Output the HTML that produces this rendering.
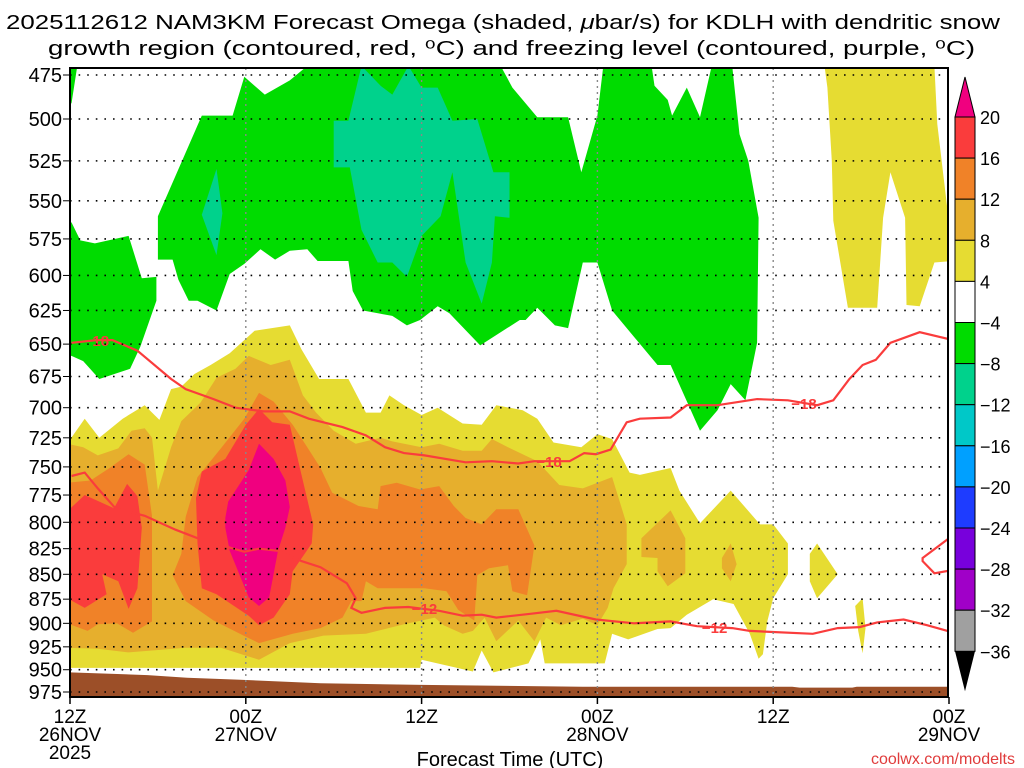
<!DOCTYPE html>
<html><head><meta charset="utf-8"><style>
html,body{margin:0;padding:0;background:#fff;}
svg{display:block;font-family:"Liberation Sans",sans-serif;}
</style></head><body>
<svg id="chart" width="1024" height="768" viewBox="0 0 1024 768" xmlns="http://www.w3.org/2000/svg">
<defs><clipPath id="plotclip"><rect x="70" y="68" width="878" height="629"/></clipPath></defs>
<g font-size="20" fill="#000">
<text x="6" y="29" textLength="994" lengthAdjust="spacingAndGlyphs">2025112612 NAM3KM Forecast Omega (shaded, <tspan font-style="italic">μ</tspan>bar/s) for KDLH with dendritic snow</text>
<text x="48" y="55" textLength="927" lengthAdjust="spacingAndGlyphs">growth region (contoured, red, ⁰C) and freezing level (contoured, purple, ⁰C)</text>
</g>
<g id="plot" clip-path="url(#plotclip)"></g>
<g id="grid"></g>
<g id="axes"></g>
<g id="cbar"></g>
<text x="510" y="766" font-size="20" text-anchor="middle">Forecast Time (UTC)</text>
<text x="1015" y="764" font-size="16" text-anchor="end" fill="#e03c3c">coolwx.com/modelts</text>
</svg>
<script>
// ---- data (hour since 12Z 26NOV, pressure hPa) ----
const pressureLevels=[475,500,525,550,575,600,625,650,675,700,725,750,775,800,825,850,875,900,925,950,975];
const timeTicks=[0,12,24,36,48,60];
const timeLabels1=["12Z","00Z","12Z","00Z","12Z","00Z"];
const timeLabels2=["26NOV","27NOV","","28NOV","","29NOV"];
const cbarLabels=["20","16","12","8","4","−4","−8","−12","−16","−20","−24","−28","−32","−36"];
const cbarColors=["#fa3c3c","#f08228","#e6af2d","#e6dc32","#ffffff","#00dc00","#00d28c","#00c8c8","#00a0ff","#1e3cff","#7800dc","#a000c8","#a0a0a0"];
const greenMain=[[16.2,470],[15,478],[13.3,486],[11.9,476],[11.1,498],[9,498],[6,560],[6,589],[7,589],[7.4,603],[8.1,618],[8.7,618],[10,625],[10.9,599],[11.9,592],[13,582],[14,589],[15,583],[16.2,582],[16.9,590],[19,590],[19.3,611],[20,625],[22,629],[23,636],[23.9,632],[25.1,622],[25.9,627],[28,651],[30.7,632],[31.1,632],[31.9,623],[33.1,636],[34,638],[35,591],[36,591],[37,625],[40.1,666],[41,666],[43,719],[44.2,702],[45.1,681],[46.1,694],[46.9,649],[47,561],[46.3,525],[45.7,509],[45.2,470],[43.8,470],[43,499],[42.1,482],[41.1,498],[40.8,489],[39.9,481],[39.7,470],[36.4,470],[36,498],[34.9,532],[34,499],[31.9,499],[30.2,482],[29.4,470]];
const greenLeft=[[-0.2,564],[0.1,564],[0.7,576],[1.7,578],[4,573],[4.9,602],[5.9,601],[5.9,618],[4.8,652],[4.1,669],[2,677],[0.9,663],[0.1,659],[-0.2,659]];
const greenSliver=[[-0.2,470],[0.5,470],[0.1,491],[-0.2,491]];
const tealSmall=[[10,530],[10.4,558],[10,586],[9,559]];
const tealBig=[[19.9,470],[21.2,481],[22,486],[23.1,470],[24,482],[25.1,482],[26.1,501],[27.8,500],[28.9,532],[30,532],[30,561],[29,560],[28.8,591],[28.1,620],[27,591],[26.1,532],[25.3,560],[24,573],[23,601],[22,591],[21,591],[19.9,569],[19.1,529],[18,529],[18,501],[19,501]];
const yellowUpperRight=[[51.5,470],[59,470],[59.2,503],[59.9,556],[60.2,590],[59,591],[58,622],[57.1,621],[57,561],[56,532],[55.5,561],[55.1,623],[53.1,623],[52.1,563],[52,525],[51.7,482]];
const yellowMain=[[-0.2,730],[1,709],[2,725],[3.6,709],[5.1,698],[6.1,710],[6.9,685],[7.6,683],[8.5,673],[9.6,666],[10.9,657],[12.6,640],[15,636],[15.8,654],[17,677],[19,677],[20.2,704],[21.2,704],[21.8,690],[22.8,698],[24,706],[25.1,700],[26.8,713],[28.1,714],[29.1,698],[30.9,702],[31.9,709],[33,729],[34.9,733],[36,722],[37,726],[38.2,755],[38.9,757],[41,751],[41.6,771],[43,801],[45.1,771],[47.1,802],[48,802],[49,820],[49,850],[48,874],[47.6,898],[47.3,933],[47,938],[46.4,911],[45.3,880],[43.9,875],[42.1,891],[41,905],[40.1,906],[38.1,917],[37,911],[36.5,943],[32.4,943],[32.1,917],[31.3,943],[28.9,953],[28.1,929],[27.5,952],[24,939],[23.9,948],[17.1,948],[-0.2,948]];
const yellowSmallA=[[51,820],[52.4,850],[51,874],[50.5,857],[50.5,830]];
const yellowSmallB=[[54.1,874],[54.3,905],[54.1,932],[53.8,908],[53.6,882]];
const lightOrangeMain=[[-0.2,730],[0.9,733],[1.9,740],[3.3,734],[4.2,719],[5.1,717],[5.6,725],[6,771],[6.9,733],[7.6,711],[8.9,696],[10,676],[11.3,669],[12.2,659],[13.7,666],[15,662],[15.9,690],[16.8,704],[18,719],[19.5,730],[21.2,725],[22,728],[24,733],[25.2,730],[26.8,736],[28.1,736],[28.8,726],[29.9,733],[31.9,745],[33.4,766],[35,769],[37,759],[37.5,780],[38,802],[38,840],[37.1,864],[36.7,884],[36,902],[35,895],[33.5,902],[32.5,894],[31.7,919],[30.6,897],[29.1,919],[28.3,894],[27.5,908],[26.8,911],[25.5,902],[24.9,894],[22.8,901],[20.2,911],[17.3,913],[15,921],[12.9,939],[10.3,926],[7.9,926],[5.6,929],[4,931],[1.9,927],[-0.2,926]];
const lightOrangeA=[[39,815],[41,789],[42,815],[42,849],[40.8,862],[40.1,847],[40.1,834],[39,833]];
const lightOrangeB=[[44.5,834],[45.1,820],[45.5,840],[45.1,857],[44.5,844]];
const orangeLeft=[[-0.2,764],[1.4,762],[2.7,751],[4,739],[5.1,748],[5.6,794],[5.6,898],[4.3,910],[3.2,900],[1.9,901],[1.2,908],[-0.2,900]];
const orangeMain=[[7.6,830],[7.9,795],[8.7,759],[10.3,734],[11.9,709],[12.9,688],[13.9,695],[15.2,714],[16.3,735],[17.1,751],[17.9,773],[19.7,785],[21,788],[21.2,767],[22.3,764],[23.9,770],[25.2,767],[26.2,785],[27,796],[28.1,802],[29.1,788],[30.6,788],[31.7,822],[31.2,871],[30.2,867],[29.9,841],[28.6,844],[27.8,851],[27.6,897],[26.5,886],[25.7,867],[24.2,864],[21,864],[20.2,857],[19.9,877],[19.2,877],[18.6,894],[17.1,905],[15.2,911],[12.9,921],[11.6,911],[9.8,897],[7.9,877],[7,851]];
const redLeft=[[-0.2,790],[1,775],[3,787],[3.9,765],[4.6,776],[4.9,805],[4.6,864],[4,885],[3.3,857],[2.2,850],[2.5,870],[1,884],[-0.2,874]];
const redMain=[[9,754],[10.6,743],[12,714],[12.9,701],[13.8,712],[15,714],[15.8,757],[16.6,802],[16.5,820],[15.2,847],[15,870],[13.9,894],[12.9,902],[12.2,892],[10,870],[9,864],[8.7,820],[8.6,778]];
const magentaCore=[[10.6,796],[10.8,781],[12.2,753],[12.9,730],[13.9,743],[14.7,762],[15,786],[14.7,805],[14.2,827],[13.6,873],[12.9,882],[12.2,873],[10.9,827],[10.6,805]];
const groundHours=[0,5.3,8,11.4,17.1,24,35,49.3,49.8,53.4,53.7,60];
const groundP=[953,956,959,961,965,967,969,969,970,970,969,969];
const contour18=[[0.1,649],[1.8,647],[2.9,647],[4.6,655],[6.9,677],[7.9,685],[9.8,693],[11.3,700],[13.2,703],[15,703],[16.3,709],[18.6,716],[20.2,723],[21.5,733],[22.8,738],[24.2,740],[27,746],[28.8,745],[30.6,747],[31.7,745],[34.1,745],[35.1,738],[35.9,739],[36.9,735],[38,712],[38.9,709],[41,708],[42.1,698],[44.2,698],[46.9,693],[49,694],[51,698],[52.1,694],[53.2,677],[54.1,666],[55,662],[56,649],[58,641],[59.9,646],[60.2,648]];
const contour12=[[0.1,758],[1,755],[1.9,769],[3.1,787],[5.1,794],[7.2,807],[8.7,815],[11.9,828],[12.9,825],[14.2,827],[15.8,837],[17.1,843],[18.9,859],[19.5,874],[19.2,884],[19.9,889],[21.5,884],[23.1,883],[25.2,887],[26.8,892],[28.1,891],[29.1,894],[31.5,890],[33.2,887],[35.9,896],[38.5,900],[41,898],[42.8,903],[45.2,905],[46.4,908],[50.7,911],[52.4,905],[53.9,904],[55.1,899],[56.9,896],[58.5,902],[59.9,908],[60.2,909]];
const contour12b=[[60.2,813],[58.2,834],[58.2,837],[59,849],[60.2,846]];
const contourLabelText=["18","−18","−18","−12","−12"];
const contourLabelPos=[[2.1,647],[32.7,745],[50.1,696],[24.2,884],[44,904]];

// ---- axis functions ----
const X=h=>70+h*14.65;
const Y=p=>75+858*Math.log(p/475);
const NS="http://www.w3.org/2000/svg";
function mk(tag,parent){const e=document.createElementNS(NS,tag);parent.appendChild(e);return e;}
const plot=document.getElementById('plot');
function poly(pts,color,name){
  const e=mk('polygon',plot);
  e.setAttribute('points',pts.map(d=>X(d[0]).toFixed(1)+','+Y(d[1]).toFixed(1)).join(' '));
  e.setAttribute('fill',color);
  
  
}
poly(greenMain,'#00dc00','omega-green-main');
poly(greenLeft,'#00dc00','omega-green-left');
poly(greenSliver,'#00dc00','omega-green-sliver');
poly(tealSmall,'#00d28c','omega-teal-small');
poly(tealBig,'#00d28c','omega-teal-big');
poly(yellowUpperRight,'#e6dc32','omega-yellow-upper-right');
poly(yellowMain,'#e6dc32','omega-yellow-main');
poly(yellowSmallA,'#e6dc32','omega-yellow-small-a');
poly(yellowSmallB,'#e6dc32','omega-yellow-small-b');
poly(lightOrangeMain,'#e6af2d','omega-lightorange-main');
poly(lightOrangeA,'#e6af2d','omega-lightorange-a');
poly(lightOrangeB,'#e6af2d','omega-lightorange-b');
poly(orangeLeft,'#f08228','omega-orange-left');
poly(orangeMain,'#f08228','omega-orange-main');
poly(redLeft,'#fa3c3c','omega-red-left');
poly(redMain,'#fa3c3c','omega-red-main');
poly(magentaCore,'#f0007f','omega-magenta-core');
// ground
{
  const pts=groundHours.map((h,i)=>[h,groundP[i]]);
  const all=pts.concat([[60,1010],[0,1010]]);
  const e=mk('polygon',plot);
  e.setAttribute('points',all.map(d=>X(d[0]).toFixed(1)+','+Y(d[1]).toFixed(1)).join(' '));
  e.setAttribute('fill','#9c4f28');
  
  
}
function line(pts,name){
  const e=mk('polyline',plot);
  e.setAttribute('points',pts.map(d=>X(d[0]).toFixed(1)+','+Y(d[1]).toFixed(1)).join(' '));
  e.setAttribute('fill','none');e.setAttribute('stroke','#fa3c3c');e.setAttribute('stroke-width','2.2');
  
  
}
line(contour18,'contour-minus18');
line(contour12,'contour-minus12');
line(contour12b,'contour-minus12-right');
contourLabelText.forEach((t,i)=>{
  const e=mk('text',plot);
  e.setAttribute('x',X(contourLabelPos[i][0]));e.setAttribute('y',Y(contourLabelPos[i][1])+6);
  e.setAttribute('font-size','15');e.setAttribute('font-weight','bold');e.setAttribute('fill','#fa3c3c');
  e.setAttribute('text-anchor','middle');
  
  
  e.textContent=t;
});
// grid
const grid=document.getElementById('grid');
pressureLevels.forEach(p=>{
  const e=mk('line',grid);
  e.setAttribute('x1',70);e.setAttribute('x2',948);e.setAttribute('y1',Y(p));e.setAttribute('y2',Y(p));
  e.setAttribute('stroke','#000');e.setAttribute('stroke-width','1.6');e.setAttribute('stroke-dasharray','1.6 7');
  
  
});
timeTicks.slice(1,5).forEach(h=>{
  const e=mk('line',grid);
  e.setAttribute('x1',X(h));e.setAttribute('x2',X(h));e.setAttribute('y1',68);e.setAttribute('y2',697);
  e.setAttribute('stroke','#888');e.setAttribute('stroke-width','1.4');e.setAttribute('stroke-dasharray','2 4');
  
  
});
// axes
const axes=document.getElementById('axes');
{
  const f=mk('rect',axes);
  f.setAttribute('x',70);f.setAttribute('y',68);f.setAttribute('width',878);f.setAttribute('height',629);
  f.setAttribute('fill','none');f.setAttribute('stroke','#000');f.setAttribute('stroke-width','2');
  
  
}
pressureLevels.forEach(p=>{
  const t=mk('text',axes);
  t.setAttribute('x',62);t.setAttribute('y',Y(p)+7);t.setAttribute('font-size','20');t.setAttribute('text-anchor','end');
  
  
  t.textContent=p;
  const k=mk('line',axes);
  k.setAttribute('x1',63);k.setAttribute('x2',70);k.setAttribute('y1',Y(p));k.setAttribute('y2',Y(p));k.setAttribute('stroke','#000');
  
  
});
timeTicks.forEach((h,i)=>{
  const k=mk('line',axes);
  k.setAttribute('x1',X(h));k.setAttribute('x2',X(h));k.setAttribute('y1',697);k.setAttribute('y2',704);k.setAttribute('stroke','#000');k.setAttribute('stroke-width','1.5');
  
  
  const t=mk('text',axes);
  t.setAttribute('x',X(h));t.setAttribute('y',723);t.setAttribute('font-size','19');t.setAttribute('text-anchor','middle');
  
  
  t.textContent=timeLabels1[i];
  if(timeLabels2[i]){
    const t2=mk('text',axes);
    t2.setAttribute('x',X(h));t2.setAttribute('y',741);t2.setAttribute('font-size','19');t2.setAttribute('text-anchor','middle');
    
    
    t2.textContent=timeLabels2[i];
  }
});
{
  const t=mk('text',axes);
  t.setAttribute('x',X(0));t.setAttribute('y',759);t.setAttribute('font-size','19');t.setAttribute('text-anchor','middle');
  
  
  t.textContent='2025';
}
// colorbar
const cb=document.getElementById('cbar');
const cbTop=117,cbStep=41.1,cbX=955,cbW=20;
{
  const tri=mk('polygon',cb);
  tri.setAttribute('points',`${cbX},${cbTop} ${cbX+cbW},${cbTop} ${cbX+cbW/2},${cbTop-40}`);
  tri.setAttribute('fill','#f0007f');tri.setAttribute('stroke','#000');tri.setAttribute('stroke-width','1');
  
  
}
cbarColors.forEach((c,i)=>{
  const r=mk('rect',cb);
  r.setAttribute('x',cbX);r.setAttribute('y',cbTop+i*cbStep);r.setAttribute('width',cbW);r.setAttribute('height',cbStep);
  r.setAttribute('fill',c);r.setAttribute('stroke','#000');r.setAttribute('stroke-width','1');
  
  
});
{
  const yb=cbTop+cbarColors.length*cbStep;
  const tri=mk('polygon',cb);
  tri.setAttribute('points',`${cbX},${yb} ${cbX+cbW},${yb} ${cbX+cbW/2},${yb+40}`);
  tri.setAttribute('fill','#000');
  
  
}
cbarLabels.forEach((l,i)=>{
  const t=mk('text',cb);
  t.setAttribute('x',980);t.setAttribute('y',cbTop+i*cbStep+7);t.setAttribute('font-size','18');
  
  
  t.textContent=l;
});
</script>
</body></html>
